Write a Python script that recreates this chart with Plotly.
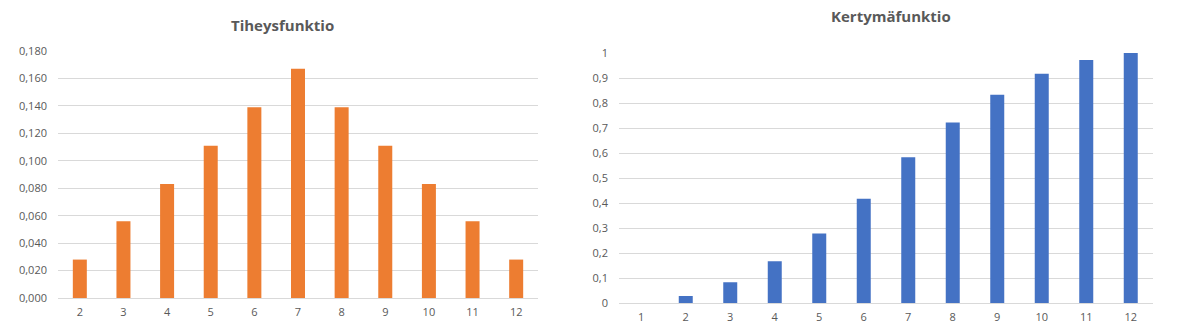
import plotly.graph_objects as go

# Sum of two dice: density and cumulative distribution
pdf_labels = ["2", "3", "4", "5", "6", "7", "8", "9", "10", "11", "12"]
pdf_values = [0.028, 0.056, 0.083, 0.111, 0.139, 0.167, 0.139, 0.111, 0.083, 0.056, 0.028]

cdf_labels = ["1", "2", "3", "4", "5", "6", "7", "8", "9", "10", "11", "12"]
cdf_values = [0.0, 0.028, 0.083, 0.167, 0.278, 0.417, 0.583, 0.722, 0.833, 0.917, 0.972, 1.0]

pdf_ticks = [0.0, 0.02, 0.04, 0.06, 0.08, 0.10, 0.12, 0.14, 0.16, 0.18]
cdf_ticks = [0.0, 0.1, 0.2, 0.3, 0.4, 0.5, 0.6, 0.7, 0.8, 0.9, 1.0]

W, H = 1186, 328
FONT = "Open Sans"
TXT = "#595959"
GRID = "#D9D9D9"


def px_x(x):
    return x / W


def px_y(y):
    return (H - y) / H


fig = go.Figure()

fig.add_trace(go.Bar(x=pdf_labels, y=pdf_values, marker_color="#ED7D31",
                     marker_line_width=0, xaxis="x", yaxis="y",
                     width=14 / (480 / 11), hoverinfo="x+y"))
fig.add_trace(go.Bar(x=cdf_labels, y=cdf_values, marker_color="#4472C4",
                     marker_line_width=0, xaxis="x2", yaxis="y2",
                     width=14 / (534 / 12), hoverinfo="x+y"))

axis_font = dict(family=FONT, size=11, color=TXT)

fig.update_layout(
    template="none",
    width=W, height=H,
    autosize=False,
    margin=dict(l=0, r=0, t=0, b=0, pad=0, autoexpand=False),
    paper_bgcolor="white", plot_bgcolor="white",
    showlegend=False,
    separators=", ",
    xaxis=dict(domain=[px_x(58), px_x(538)], type="category",
               showgrid=False, showline=False, ticks="", automargin=False,
               tickfont=axis_font, ticklabelstandoff=6, anchor="y"),
    yaxis=dict(domain=[px_y(298), px_y(51)], range=[0, 0.18],
               tickvals=pdf_ticks, tickformat=".3f", automargin=False,
               showgrid=True, gridcolor=GRID, gridwidth=1,
               zeroline=True, zerolinecolor=GRID, zerolinewidth=1,
               showline=False, ticks="", tickfont=axis_font,
               ticklabelstandoff=10, anchor="x"),
    xaxis2=dict(domain=[px_x(619), px_x(1153)], type="category",
                showgrid=False, showline=False, ticks="", automargin=False,
                tickfont=axis_font, ticklabelstandoff=6, anchor="y2"),
    yaxis2=dict(domain=[px_y(303), px_y(53)], range=[0, 1],
                tickvals=cdf_ticks, tickformat=".1~f", automargin=False,
                showgrid=True, gridcolor=GRID, gridwidth=1,
                zeroline=True, zerolinecolor=GRID, zerolinewidth=1,
                showline=False, ticks="", tickfont=axis_font,
                ticklabelstandoff=10, anchor="x2"),
    annotations=[
        dict(text="<b>Tiheysfunktio</b>", x=px_x(282), y=px_y(25),
             xref="paper", yref="paper", showarrow=False,
             xanchor="center", yanchor="middle",
             font=dict(family=FONT, size=15, color=TXT)),
        dict(text="<b>Kertymäfunktio</b>", x=px_x(891), y=px_y(16),
             xref="paper", yref="paper", showarrow=False,
             xanchor="center", yanchor="middle",
             font=dict(family=FONT, size=15, color=TXT)),
    ],
)

fig.write_html("out.html")
